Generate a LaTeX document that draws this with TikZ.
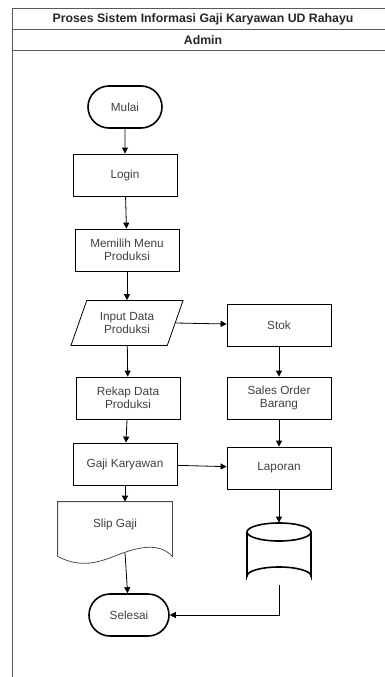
\documentclass[tikz,border=0pt]{standalone}
\usepackage{fontspec}
\setmainfont{Liberation Sans}
\usetikzlibrary{shapes.geometric,shapes.misc,arrows.meta,calc}

\begin{document}
\begin{tikzpicture}[x=1pt,y=-1pt]
            \useasboundingbox (0,0) rectangle (385,677);
            \begin{scope}[draw=black!65,line width=0.9pt]
                \draw (12,677) -- (12,8) -- (385,8);
                \draw (12,29) -- (385,29);
                \draw (12,50) -- (385,50);
            \end{scope}
            \node[font=\bfseries\fontsize{12.3}{14}\selectfont,text=black!85] (judul) at (203,19) {Proses Sistem Informasi Gaji Karyawan UD Rahayu};
            \node[font=\bfseries\fontsize{12.3}{14}\selectfont,text=black!85] (admin) at (203,40) {Admin};

            \begin{scope}[every node/.style={draw=black,line width=0.8pt,align=center,text=black!75,font=\fontsize{11.8}{13.5}\selectfont,minimum width=104pt,minimum height=42pt,inner sep=2pt},
                terminal/.style={rounded rectangle,line width=1.6pt,minimum width=78pt},
                masukan/.style={trapezium,trapezium left angle=66,trapezium right angle=114,trapezium stretches=true,minimum width=113pt,minimum height=45pt},
                dokumen/.style={draw=none,minimum width=114pt,minimum height=62pt,text depth=20pt},
                basisdata/.style={draw=none,minimum width=64pt,minimum height=62pt}]
                \node[terminal] (mulai) at (125,107) {Mulai};
                \node (login) at (125,175) {Login};
                \node (menu) at (127,250) {Memilih Menu\\Produksi};
                \node[masukan] (input) at (127,323) {Input Data\\Produksi};
                \node (rekap) at (128,398) {Rekap Data\\Produksi};
                \node (gaji) at (125,464) {Gaji Karyawan};
                \node[dokumen] (slip) at (115,533) {Slip Gaji};
                \node[terminal,minimum width=84pt] (selesai) at (129,615) {Selesai};

                \node (stok) at (279,325) {Stok};
                \node (sales) at (279,398) {Sales Order\\Barang};
                \node (laporan) at (279,468) {Laporan};
                \node[basisdata] (arsip) at (279,554) {};
            \end{scope}
            % bentuk dokumen slip gaji
            \draw[line width=0.8pt,black!70] ($(slip.south west)+(0,-8)$) -- (slip.north west) -- (slip.north east) -- ($(slip.south east)+(0,-8)$)
                .. controls (158,541) and (135,548) .. (115,556)
                .. controls (97,563) and (80,568) .. ($(slip.south west)+(0,-8)$);
            \coordinate (slipbawah) at (125,553);
            % bentuk tabung arsip
            \draw[line width=1.6pt] (247,532) -- (247,576) arc[start angle=180,end angle=360,x radius=32,y radius=9] -- (311,532);
            \draw[line width=1.6pt] (279,532) ellipse[x radius=32,y radius=9];

            \begin{scope}[every edge/.style={draw,line width=0.8pt,-{Triangle[length=6pt,width=6pt]}}]
                \path (mulai) edge (login);
                \path (login) edge (menu);
                \path (menu) edge (input);
                \path (input) edge (rekap);
                \path (rekap) edge (gaji);
                \path (gaji) edge (gaji.south |- slip.north);
                \path (slipbawah) edge (selesai);

                \path (input.east) edge (stok);
                \path (stok) edge (sales);
                \path (sales) edge (laporan);
                \path (gaji) edge (laporan);
                \path (laporan) edge (arsip);
                \path (arsip.south) edge[to path={|- (\tikztotarget)}] (selesai.east);
            \end{scope}
        \end{tikzpicture}
\end{document}
